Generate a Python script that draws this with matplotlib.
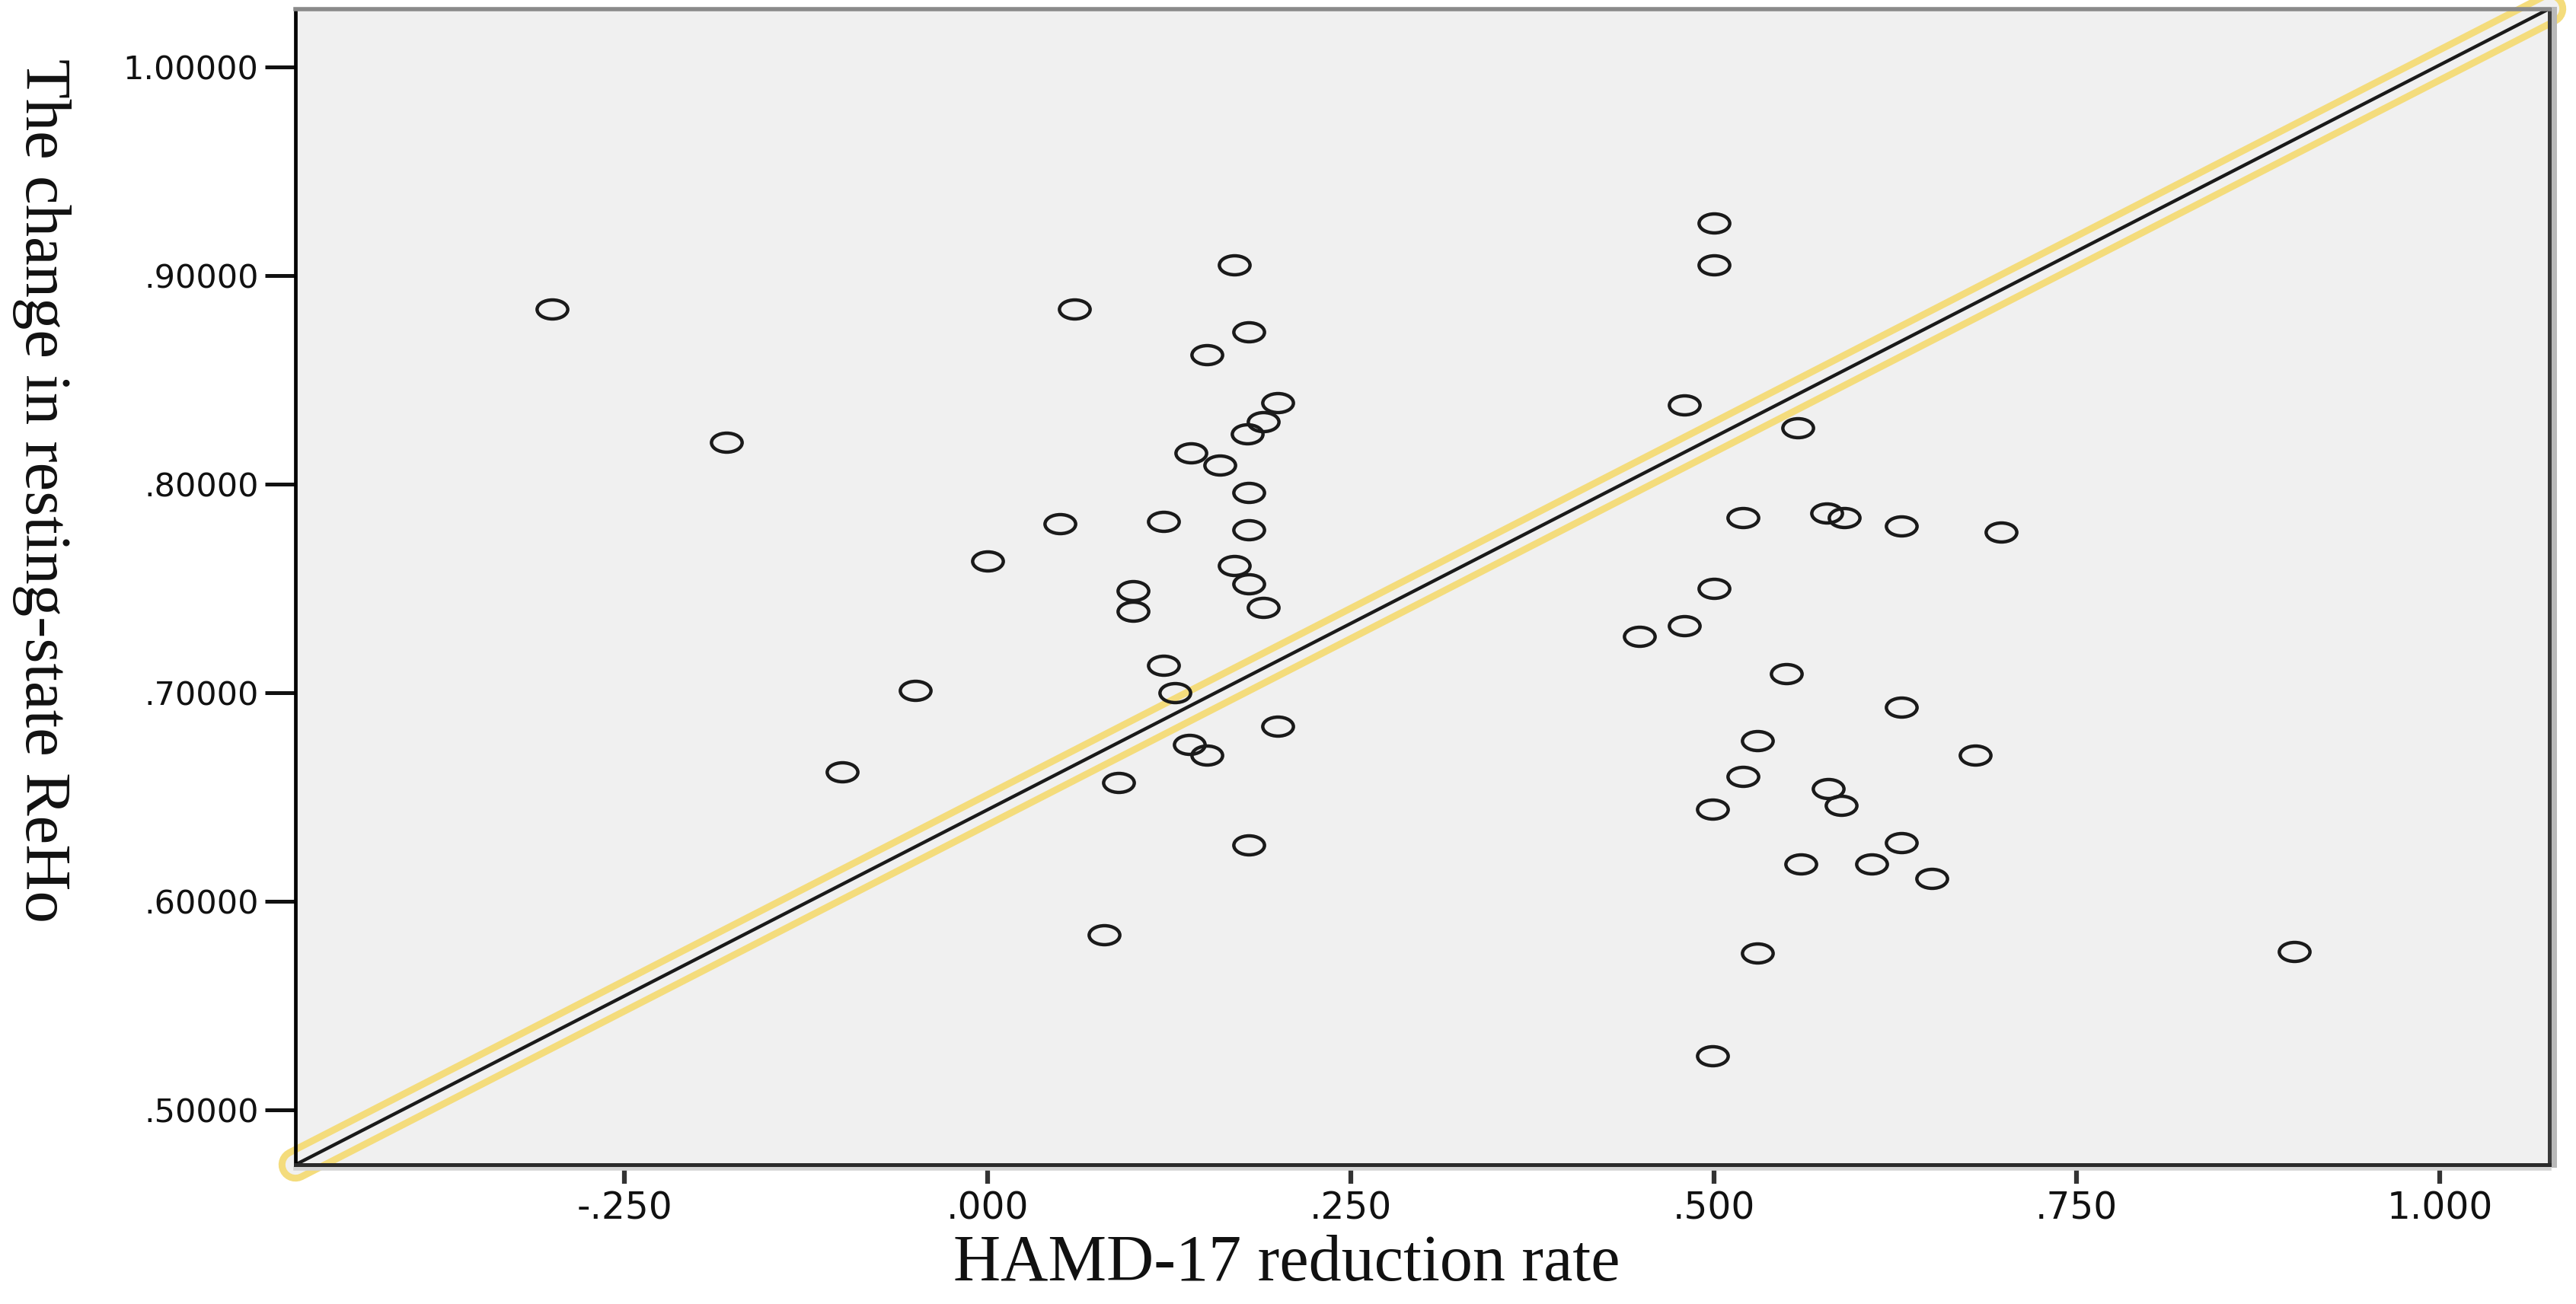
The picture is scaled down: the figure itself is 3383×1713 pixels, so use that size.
import matplotlib
matplotlib.use("Agg")
import matplotlib.pyplot as plt  # noqa: E402
import matplotlib.transforms as mtransforms  # noqa: E402
from matplotlib.path import Path  # noqa: E402

# HAMD-17 reduction rate (x) vs change in resting-state ReHo (y)
reduction_rate = [
    -0.300, -0.180, -0.100, -0.050, 0.000, 0.050, 0.060, 0.080, 0.090, 0.100,
    0.100, 0.121, 0.121, 0.129, 0.139, 0.140, 0.151, 0.151, 0.160, 0.170,
    0.170, 0.180, 0.179, 0.180, 0.180, 0.180, 0.180, 0.190, 0.190, 0.200,
    0.200,
    0.449, 0.480, 0.480, 0.500, 0.500, 0.500, 0.499, 0.499, 0.520, 0.520,
    0.530, 0.530, 0.550, 0.558, 0.560, 0.578, 0.590, 0.579, 0.588, 0.609,
    0.629, 0.629, 0.629, 0.650, 0.680, 0.698, 0.900,
]
reho_change = [
    0.884, 0.820, 0.662, 0.701, 0.763, 0.781, 0.884, 0.584, 0.657, 0.749,
    0.739, 0.782, 0.713, 0.700, 0.675, 0.815, 0.670, 0.862, 0.809, 0.905,
    0.761, 0.873, 0.824, 0.796, 0.778, 0.752, 0.627, 0.830, 0.741, 0.839,
    0.684,
    0.727, 0.838, 0.732, 0.925, 0.905, 0.750, 0.644, 0.526, 0.784, 0.660,
    0.677, 0.575, 0.709, 0.827, 0.618, 0.786, 0.784, 0.654, 0.646, 0.618,
    0.780, 0.693, 0.628, 0.611, 0.670, 0.777, 0.576,
]

# highlighted reference line, corner to corner of the plot area
line_x = [-0.4767, 1.0755]
line_y = [0.4737, 1.0279]

x_ticks = [-0.25, 0.0, 0.25, 0.5, 0.75, 1.0]
x_tick_labels = ["-.250", ".000", ".250", ".500", ".750", "1.000"]
y_ticks = [0.5, 0.6, 0.7, 0.8, 0.9, 1.0]
y_tick_labels = [".50000", ".60000", ".70000", ".80000", ".90000", "1.00000"]

W, H, DPI = 3383, 1713, 100
PLOT_BG = "#f0f0f0"
YELLOW = "#f4dc7c"


def ellipse_marker(aspect=0.62):
    circ = Path.unit_circle()
    verts = circ.vertices.copy()
    verts[:, 1] *= aspect
    return Path(verts, circ.codes)


def main():
    fig = plt.figure(figsize=(W / DPI, H / DPI), dpi=DPI)
    left, right, top, bottom = 388, 3348, 11.5, 1530
    ax = fig.add_axes([left / W, 1 - bottom / H, (right - left) / W, (bottom - top) / H])
    ax.set_facecolor(PLOT_BG)
    ax.set_xlim(line_x[0], line_x[1])
    ax.set_ylim(line_y[0], line_y[1])

    # yellow outline around the line: thick yellow stroke, then background band, then black line
    ax.plot(line_x, line_y, color=YELLOW, lw=32, solid_capstyle="round",
            clip_on=False, zorder=1)
    ax.plot(line_x, line_y, color=PLOT_BG, lw=19, solid_capstyle="round",
            clip_on=False, zorder=1.5)
    ax.plot(reduction_rate, reho_change, ls="none", marker=ellipse_marker(),
            ms=29, mfc="none", mec="#1a1a1a", mew=3.2, zorder=3)
    ax.plot(line_x, line_y, color="#1a1a1a", lw=3.2, zorder=4)

    ax.set_xticks(x_ticks)
    ax.set_xticklabels(x_tick_labels)
    ax.set_yticks(y_ticks)
    ax.set_yticklabels(y_tick_labels)
    for lbl in ax.get_xticklabels() + ax.get_yticklabels():
        lbl.set_family("DejaVu Sans")
    ax.tick_params(axis="x", length=18, width=4.5, color="#333333", pad=6,
                   labelsize=35, labelcolor="#111111")
    ax.tick_params(axis="y", length=29, width=3.6, color="#111111", pad=6,
                   labelsize=31, labelcolor="#111111")

    ax.spines["left"].set_color("#000000")
    ax.spines["left"].set_linewidth(3.4)
    ax.spines["bottom"].set_color("#2b2b2b")
    ax.spines["bottom"].set_linewidth(3.6)
    ax.spines["top"].set_color("#8a8a8a")
    ax.spines["top"].set_linewidth(4.0)
    ax.spines["right"].set_color("#3a3a3a")
    ax.spines["right"].set_linewidth(3.6)
    for sp in ax.spines.values():
        sp.set_zorder(5)

    # soft drop shadow on the right and bottom edges (SPSS chart frame)
    shadow_r = mtransforms.offset_copy(ax.transAxes, fig=fig, x=6, y=0, units="dots")
    ax.plot([1, 1], [0, 1], color="#b8b8b8", lw=5, transform=shadow_r,
            clip_on=False, zorder=4.5)
    shadow_b = mtransforms.offset_copy(ax.transAxes, fig=fig, x=0, y=-5, units="dots")
    ax.plot([0, 1], [0, 0], color="#d4d4d4", lw=4, transform=shadow_b,
            clip_on=False, zorder=4.5)

    serif = ["Liberation Serif", "DejaVu Serif"]
    fig.text(54 / W, 1 - 644 / H, "The change in resting-state ReHo", rotation=270,
             ha="center", va="center", fontsize=61, family=serif, color="#111111")
    fig.text(1690 / W, 1 - 1661 / H, "HAMD-17 reduction rate",
             ha="center", va="center", fontsize=62, family=serif, color="#111111")

    fig.savefig("out.png", dpi=DPI, facecolor="white")
    plt.close(fig)


if __name__ == "__main__":
    main()
